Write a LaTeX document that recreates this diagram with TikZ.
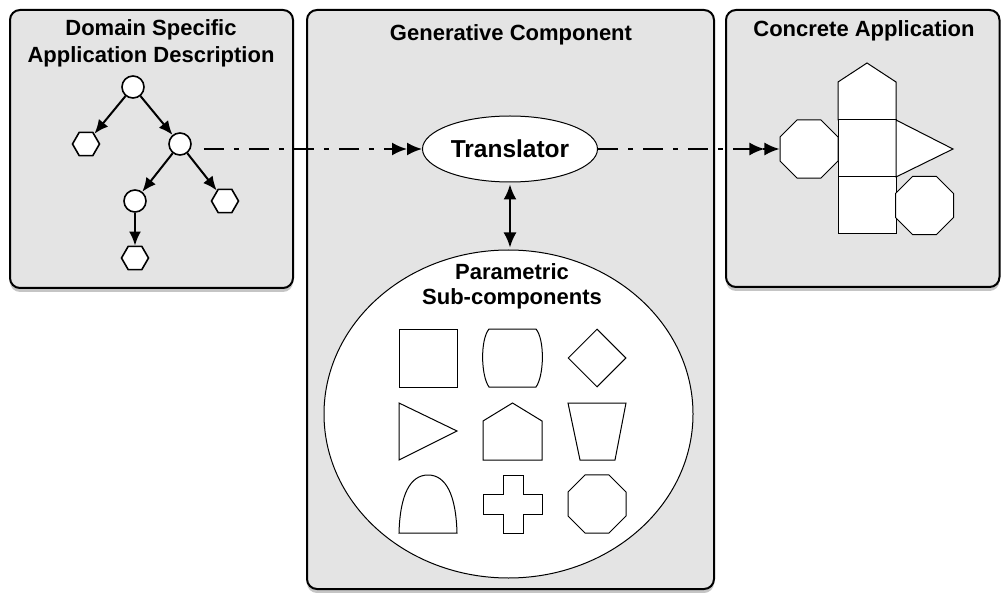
\documentclass[tikz,border=0pt]{standalone}
\usepackage{fontspec}
\setmainfont{Liberation Sans}
\usetikzlibrary{arrows.meta,shapes.geometric,shadows}
\definecolor{panelgray}{RGB}{228,228,228}

\begin{document}
\begin{tikzpicture}[x=1pt,y=-1pt,
  panel/.style={draw,line width=2pt,fill=panelgray,rounded corners=10pt,
    drop shadow={shadow xshift=0pt,shadow yshift=-4pt,fill=black!45}},
  title/.style={font=\bfseries\fontsize{22}{27}\selectfont,align=center,anchor=base},
  treenode/.style={circle,draw,line width=1.6pt,fill=white,minimum size=22pt,inner sep=0pt},
  leaf/.style={regular polygon,regular polygon sides=6,draw,line width=1.6pt,fill=white,minimum size=27pt,inner sep=0pt},
  tip/.style={-{Latex[length=14pt,width=12pt]}},
  flow/.style={line width=2pt,dash pattern=on 20pt off 10pt on 5pt off 10pt,
    -{Latex[length=15pt,width=13pt]Latex[length=15pt,width=13pt]}},
  part/.style={draw,line width=1pt,fill=white},
  octo/.style={part,regular polygon,regular polygon sides=8,minimum size=62.8pt,inner sep=0pt},
  level distance=57pt,
  level 1/.style={sibling distance=94pt},
  level 2/.style={sibling distance=90pt},
  edge from parent/.style={draw,line width=2pt,tip}]
\useasboundingbox (0,0) rectangle (1003,593);

% the three panels
\draw[panel] (10,10) rectangle (293,288);
\draw[panel] (307,10) rectangle (714,589);
\draw[panel] (726,10) rectangle (999.5,287);

\node[title] (dsl) at (151,63) {Domain Specific\\Application Description};
\node[title] (gen) at (511,41) {Generative Component};
\node[title] (app) at (864,37) {Concrete Application};

% description tree
\node [treenode] (root) at (133,87) {}
  child {node [leaf] (l1) {}}
  child {
  node [treenode] (n2) {}
  child {
  node [treenode] (n3) {}
  child {node [leaf] (l3) {}}
  }
  child {node [leaf] (l2) {}}
  };

% generative component
\node[ellipse,draw,line width=1pt,fill=white,minimum width=175pt,minimum height=66pt,
  inner sep=0pt,font=\bfseries\fontsize{24.5}{28}\selectfont] (trans) at (510,149) {Translator};
\node[ellipse,draw,line width=1pt,fill=white,minimum width=369pt,minimum height=328pt] (subc) at (508.5,414) {};
\node[title,font=\bfseries\fontsize{22}{25}\selectfont] (subt) at (512,305) {Parametric\\Sub-components};

\draw[line width=2pt,{Latex[length=15pt,width=13pt]}-{Latex[length=15pt,width=13pt]},
  shorten <=2pt,shorten >=2pt] (trans.south) -- (trans.south |- subc.north);

% sub-components
\node[part,rectangle,minimum size=58pt,inner sep=0pt] (sq) at (428,358) {};
\draw[part] (489,329) -- (536,329) .. controls (545,340) and (544,376) .. (536,387)
  -- (489,387) .. controls (481,376) and (480,340) .. (489,329) -- cycle;
\node[part,diamond,minimum size=58pt,inner sep=0pt] (dia) at (597,358) {};
\draw[part] (399,403) -- (457,431) -- (399,460) -- cycle;
\draw[part] (483,421) -- (512.5,403) -- (542,421) -- (542,460) -- (483,460) -- cycle;
\draw[part] (568,403) -- (626,403) -- (615,460) -- (580,460) -- cycle;
\draw[part] (399,533) .. controls (400,495) and (410,475) .. (428,475)
  .. controls (446,475) and (456,495) .. (457,533) -- cycle;
\draw[part] (503,475) -- (523,475) -- (523,494) -- (542,494) -- (542,514) -- (523,514)
  -- (523,533) -- (503,533) -- (503,514) -- (483,514) -- (483,494) -- (503,494) -- cycle;
\node[octo] (oct3) at (597,504) {};

% concrete application
\draw[part] (838,120) -- (838,82) -- (867,63) -- (896,82) -- (896,120) -- cycle;
\draw[part] (838,120) rectangle (896,177);
\draw[part] (838,177) rectangle (896,234);
\draw[part] (896,120) -- (953,149) -- (896,177) -- cycle;
\node[octo] (oct) at (809,149) {};
\node[octo] (oct2) at (924.5,205.5) {};

% flow of the description
\coordinate (out) at ([xshift=12pt]n2.east);
\draw[flow] (out |- trans.west) -- (trans.west);
\draw[flow] (trans.east) -- (oct.west);
\end{tikzpicture}
\end{document}
